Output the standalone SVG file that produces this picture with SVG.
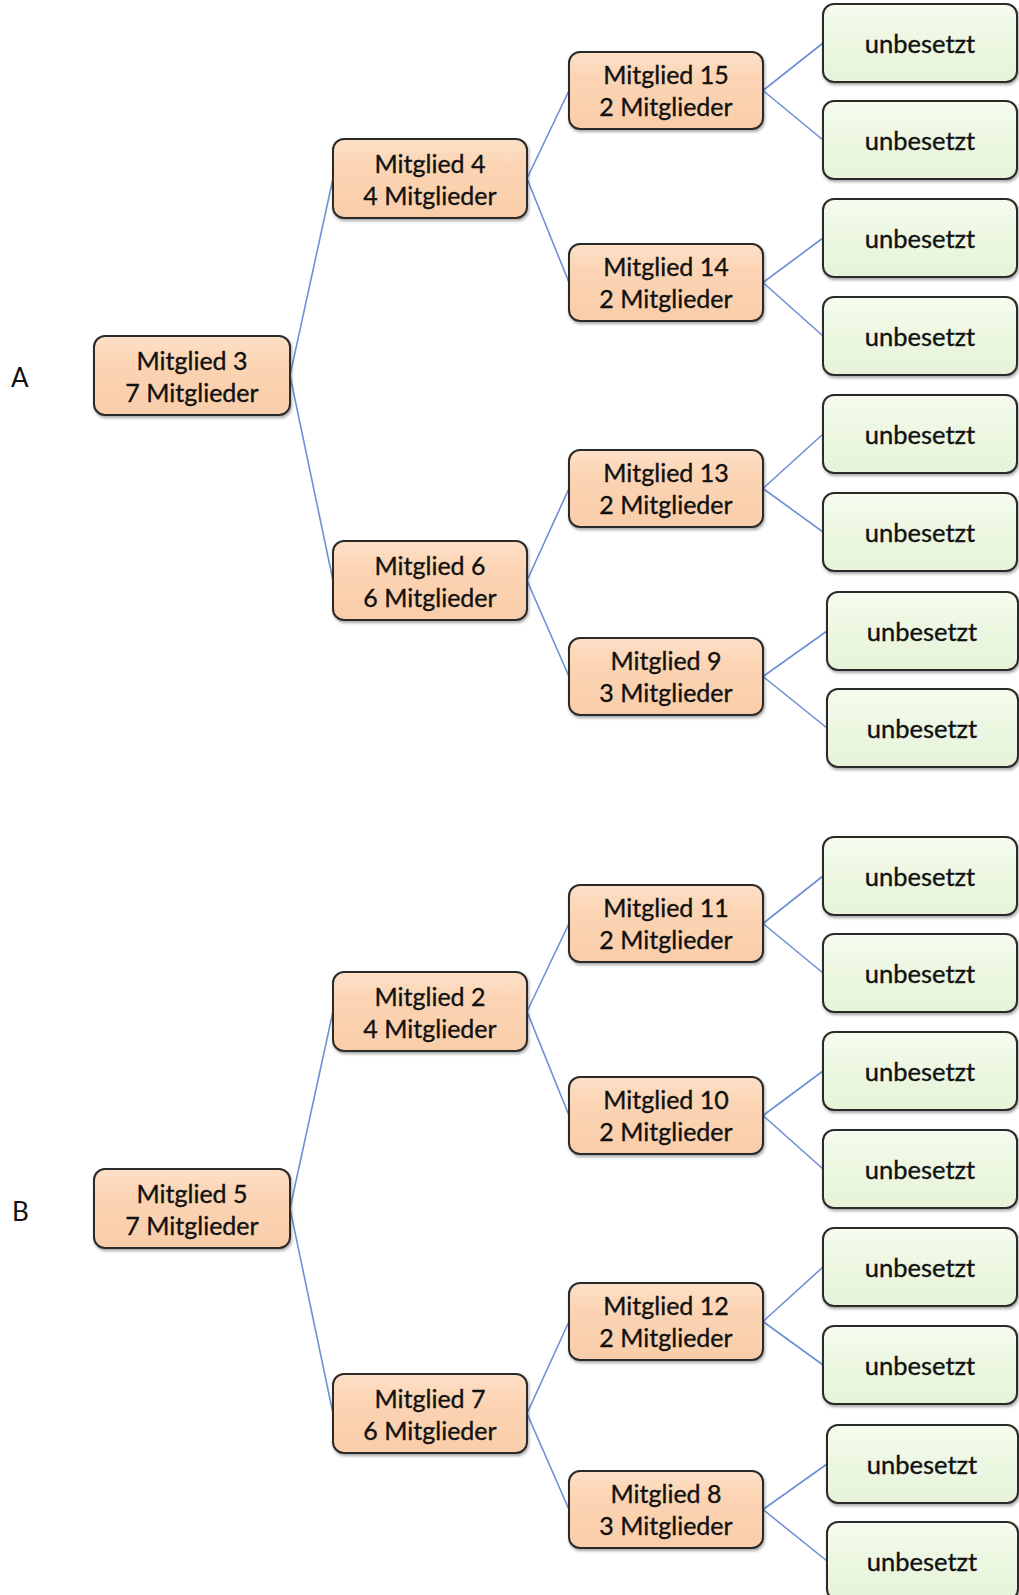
<svg xmlns="http://www.w3.org/2000/svg" width="1019" height="1595" viewBox="0 0 1019 1595">
<style>
.n rect{stroke:#2a2a2a;stroke-width:2;filter:url(#sh)}
.o rect{fill:url(#go)}
.g rect{fill:url(#gg)}
.n text{font-family:Lato,"Open Sans","Liberation Sans",sans-serif;font-size:25px;fill:#111;stroke:#111;stroke-width:0.35;text-anchor:middle}
.g text{font-size:25.5px}
.lbl{font-family:Lato,"Liberation Sans",sans-serif;font-size:26px;fill:#111}
#conn line{stroke:#6e8fd6;stroke-width:1.6}
</style>
<defs>
<linearGradient id="go" x1="0" y1="0" x2="0" y2="1"><stop offset="0" stop-color="#fde0c8"/><stop offset="0.35" stop-color="#fcd4b3"/><stop offset="1" stop-color="#f9cdaa"/></linearGradient>
<linearGradient id="gg" x1="0" y1="0" x2="0" y2="1"><stop offset="0" stop-color="#f6fcef"/><stop offset="0.35" stop-color="#eef8e4"/><stop offset="1" stop-color="#e6f3d9"/></linearGradient>
<filter id="sh" x="-10%" y="-10%" width="130%" height="140%"><feDropShadow dx="1" dy="2" stdDeviation="1.5" flood-color="#000" flood-opacity="0.35"/></filter>
</defs>
<rect width="1019" height="1595" fill="#fff"/>
<text class="lbl" x="11" y="387">A</text>
<text class="lbl" x="12" y="1221">B</text>
<g id="conn">
<line x1="290" y1="375.5" x2="333" y2="178.5"/>
<line x1="290" y1="375.5" x2="333" y2="580.5"/>
<line x1="527" y1="178.5" x2="569" y2="90.5"/>
<line x1="527" y1="178.5" x2="569" y2="282.5"/>
<line x1="527" y1="580.5" x2="569" y2="488.5"/>
<line x1="527" y1="580.5" x2="569" y2="676.5"/>
<line x1="763" y1="90.5" x2="823" y2="43"/>
<line x1="763" y1="90.5" x2="823" y2="140"/>
<line x1="763" y1="282.5" x2="823" y2="238"/>
<line x1="763" y1="282.5" x2="823" y2="336"/>
<line x1="763" y1="488.5" x2="823" y2="434"/>
<line x1="763" y1="488.5" x2="823" y2="532"/>
<line x1="763" y1="676.5" x2="827" y2="631"/>
<line x1="763" y1="676.5" x2="827" y2="728"/>
<line x1="290" y1="1208.5" x2="333" y2="1011.5"/>
<line x1="290" y1="1208.5" x2="333" y2="1413.5"/>
<line x1="527" y1="1011.5" x2="569" y2="923.5"/>
<line x1="527" y1="1011.5" x2="569" y2="1115.5"/>
<line x1="527" y1="1413.5" x2="569" y2="1321.5"/>
<line x1="527" y1="1413.5" x2="569" y2="1509.5"/>
<line x1="763" y1="923.5" x2="823" y2="876"/>
<line x1="763" y1="923.5" x2="823" y2="973"/>
<line x1="763" y1="1115.5" x2="823" y2="1071"/>
<line x1="763" y1="1115.5" x2="823" y2="1169"/>
<line x1="763" y1="1321.5" x2="823" y2="1267"/>
<line x1="763" y1="1321.5" x2="823" y2="1365"/>
<line x1="763" y1="1509.5" x2="827" y2="1464"/>
<line x1="763" y1="1509.5" x2="827" y2="1561"/>
</g>
<!-- Tree A -->
<g id="m3" class="n o"><rect x="94" y="336" width="196" height="79" rx="11"/><text x="192" y="370">Mitglied 3</text><text x="192" y="402">7 Mitglieder</text></g>
<g id="m4" class="n o"><rect x="333" y="139" width="194" height="79" rx="11"/><text x="430" y="173">Mitglied 4</text><text x="430" y="205">4 Mitglieder</text></g>
<g id="m6" class="n o"><rect x="333" y="541" width="194" height="79" rx="11"/><text x="430" y="575">Mitglied 6</text><text x="430" y="607">6 Mitglieder</text></g>
<g id="m15" class="n o"><rect x="569" y="52" width="194" height="77" rx="11"/><text x="666" y="84">Mitglied 15</text><text x="666" y="116">2 Mitglieder</text></g>
<g id="m14" class="n o"><rect x="569" y="244" width="194" height="77" rx="11"/><text x="666" y="276">Mitglied 14</text><text x="666" y="308">2 Mitglieder</text></g>
<g id="m13" class="n o"><rect x="569" y="450" width="194" height="77" rx="11"/><text x="666" y="482">Mitglied 13</text><text x="666" y="514">2 Mitglieder</text></g>
<g id="m9" class="n o"><rect x="569" y="638" width="194" height="77" rx="11"/><text x="666" y="670">Mitglied 9</text><text x="666" y="702">3 Mitglieder</text></g>
<g id="a1" class="n g"><rect x="823" y="4" width="194" height="78" rx="11"/><text x="920" y="53">unbesetzt</text></g>
<g id="a2" class="n g"><rect x="823" y="101" width="194" height="78" rx="11"/><text x="920" y="150">unbesetzt</text></g>
<g id="a3" class="n g"><rect x="823" y="199" width="194" height="78" rx="11"/><text x="920" y="248">unbesetzt</text></g>
<g id="a4" class="n g"><rect x="823" y="297" width="194" height="78" rx="11"/><text x="920" y="346">unbesetzt</text></g>
<g id="a5" class="n g"><rect x="823" y="395" width="194" height="78" rx="11"/><text x="920" y="444">unbesetzt</text></g>
<g id="a6" class="n g"><rect x="823" y="493" width="194" height="78" rx="11"/><text x="920" y="542">unbesetzt</text></g>
<g id="a7" class="n g"><rect x="827" y="592" width="191" height="78" rx="11"/><text x="922" y="641">unbesetzt</text></g>
<g id="a8" class="n g"><rect x="827" y="689" width="191" height="78" rx="11"/><text x="922" y="738">unbesetzt</text></g>
<!-- Tree B -->
<g id="m5" class="n o"><rect x="94" y="1169" width="196" height="79" rx="11"/><text x="192" y="1203">Mitglied 5</text><text x="192" y="1235">7 Mitglieder</text></g>
<g id="m2" class="n o"><rect x="333" y="972" width="194" height="79" rx="11"/><text x="430" y="1006">Mitglied 2</text><text x="430" y="1038">4 Mitglieder</text></g>
<g id="m7" class="n o"><rect x="333" y="1374" width="194" height="79" rx="11"/><text x="430" y="1408">Mitglied 7</text><text x="430" y="1440">6 Mitglieder</text></g>
<g id="m11" class="n o"><rect x="569" y="885" width="194" height="77" rx="11"/><text x="666" y="917">Mitglied 11</text><text x="666" y="949">2 Mitglieder</text></g>
<g id="m10" class="n o"><rect x="569" y="1077" width="194" height="77" rx="11"/><text x="666" y="1109">Mitglied 10</text><text x="666" y="1141">2 Mitglieder</text></g>
<g id="m12" class="n o"><rect x="569" y="1283" width="194" height="77" rx="11"/><text x="666" y="1315">Mitglied 12</text><text x="666" y="1347">2 Mitglieder</text></g>
<g id="m8" class="n o"><rect x="569" y="1471" width="194" height="77" rx="11"/><text x="666" y="1503">Mitglied 8</text><text x="666" y="1535">3 Mitglieder</text></g>
<g id="b1" class="n g"><rect x="823" y="837" width="194" height="78" rx="11"/><text x="920" y="886">unbesetzt</text></g>
<g id="b2" class="n g"><rect x="823" y="934" width="194" height="78" rx="11"/><text x="920" y="983">unbesetzt</text></g>
<g id="b3" class="n g"><rect x="823" y="1032" width="194" height="78" rx="11"/><text x="920" y="1081">unbesetzt</text></g>
<g id="b4" class="n g"><rect x="823" y="1130" width="194" height="78" rx="11"/><text x="920" y="1179">unbesetzt</text></g>
<g id="b5" class="n g"><rect x="823" y="1228" width="194" height="78" rx="11"/><text x="920" y="1277">unbesetzt</text></g>
<g id="b6" class="n g"><rect x="823" y="1326" width="194" height="78" rx="11"/><text x="920" y="1375">unbesetzt</text></g>
<g id="b7" class="n g"><rect x="827" y="1425" width="191" height="78" rx="11"/><text x="922" y="1474">unbesetzt</text></g>
<g id="b8" class="n g"><rect x="827" y="1522" width="191" height="78" rx="11"/><text x="922" y="1571">unbesetzt</text></g>
</svg>
